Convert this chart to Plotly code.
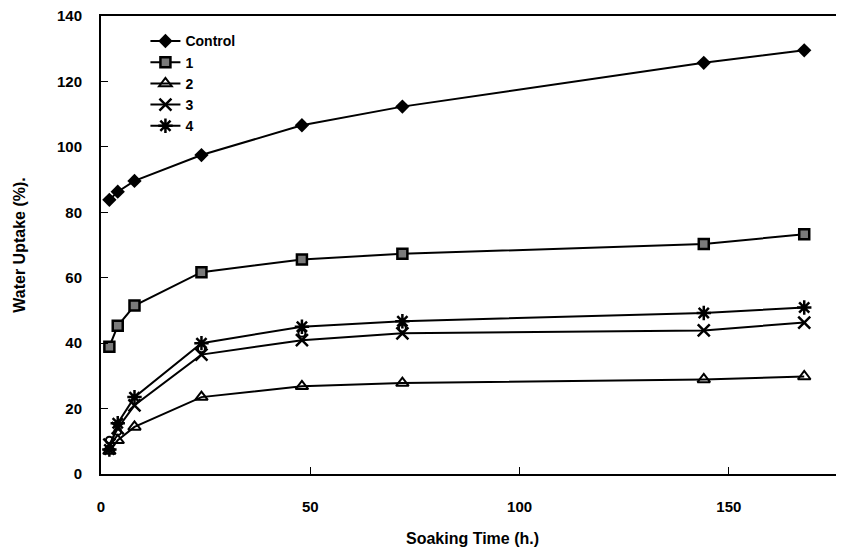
import plotly.graph_objects as go

hours = [2, 4, 8, 24, 48, 72, 144, 168]
control = [83.8, 86.3, 89.6, 97.5, 106.6, 112.3, 125.7, 129.5]
s1 = [38.9, 45.3, 51.5, 61.7, 65.6, 67.3, 70.3, 73.3]
s2 = [7.0, 10.3, 14.4, 23.5, 26.8, 27.8, 28.9, 29.8]
s3 = [9.0, 14.0, 21.0, 36.5, 40.9, 43.0, 43.9, 46.3]
s4 = [7.5, 15.5, 23.5, 40.0, 45.0, 46.7, 49.2, 50.9]
extra_hours = [2, 4, 24, 48, 72]
extra = [10.3, 13.0, 38.3, 43.0, 44.6]

x_ticks = [0, 50, 100, 150]
y_ticks = [0, 20, 40, 60, 80, 100, 120, 140]

fig = go.Figure()
line = dict(color="black", width=2)

fig.add_trace(go.Scatter(x=hours, y=control, name="Control", mode="lines+markers",
                         line=line, marker=dict(symbol="diamond", size=11, color="black")))
fig.add_trace(go.Scatter(x=hours, y=s1, name="1", mode="lines+markers", line=line,
                         marker=dict(symbol="square", size=10, color="#7a7a7a",
                                     line=dict(color="black", width=2.5))))
fig.add_trace(go.Scatter(x=hours, y=s2, name="2", mode="lines+markers", line=line,
                         marker=dict(symbol="triangle-up-open", size=11, color="black",
                                     line=dict(color="black", width=2))))
fig.add_trace(go.Scatter(x=hours, y=s3, name="3", mode="lines+markers", line=line,
                         marker=dict(symbol="x-thin-open", size=12, color="black",
                                     line=dict(color="black", width=2.5))))
fig.add_trace(go.Scatter(x=hours, y=s4, name="4", mode="lines+markers", line=line,
                         marker=dict(symbol="asterisk-open", size=12, color="black",
                                     line=dict(color="black", width=2.5))))
fig.add_trace(go.Scatter(x=extra_hours, y=extra, mode="markers", showlegend=False,
                         marker=dict(symbol="circle-open", size=7, color="black",
                                     line=dict(color="black", width=2))))

fig.update_layout(
    width=836, height=539,
    margin=dict(l=93, r=0, t=8, b=73, autoexpand=False),
    paper_bgcolor="white", plot_bgcolor="white",
    font=dict(family="Liberation Sans, Arial, sans-serif", color="black"),
    showlegend=True,
    legend=dict(x=0.0598, y=0.9795, xanchor="left", yanchor="top",
                bgcolor="rgba(0,0,0,0)", tracegroupgap=0,
                font=dict(size=14, family="Liberation Sans, Arial, sans-serif", weight="bold")),
    xaxis=dict(range=[0, 177.5], tickvals=x_ticks, ticks="inside", ticklen=7,
               tickcolor="black", tickwidth=1, showgrid=False, zeroline=False,
               showline=True, linecolor="black", linewidth=2, mirror=True,
               ticklabelstandoff=18, automargin=False, ticklabeloverflow="allow",
               tickfont=dict(size=15, weight="bold"),
               title=dict(text="Soaking Time (h.)", font=dict(size=16, weight="bold"), standoff=21)),
    yaxis=dict(range=[0, 140], tickvals=y_ticks, ticks="inside", ticklen=7,
               tickcolor="black", tickwidth=1, showgrid=False, zeroline=False,
               showline=True, linecolor="black", linewidth=2, mirror=False,
               ticklabelstandoff=14, automargin=False, ticklabeloverflow="allow",
               tickfont=dict(size=15, weight="bold"),
               title=dict(text="Water Uptake (%).", font=dict(size=16, weight="bold"), standoff=27)),
)

fig.write_html("out.html")
